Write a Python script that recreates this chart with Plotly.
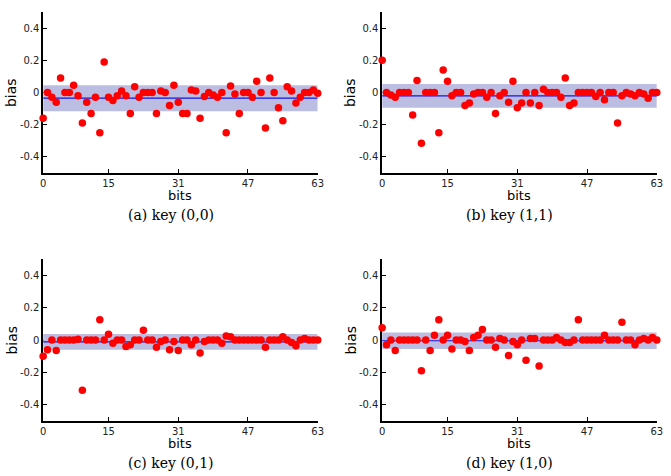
import numpy as np
import plotly.graph_objects as go

bits = list(range(64))
x_tick_vals = [0, 15, 31, 47, 63]
x_tick_text = ["0", "15", "31", "47", "63"]
y_tick_vals = [-0.4, -0.2, 0, 0.2, 0.4]
y_tick_text = ["-0.4", "-0.2", "0", "0.2", "0.4"]

bias_a = [-0.16, 0, -0.03, -0.06, 0.09, 0, 0, 0.045, -0.02, -0.19,
          -0.06, -0.13, -0.03, -0.25, 0.19, -0.03, -0.05, -0.02, 0.01, -0.02,
          -0.13, 0.035, -0.03, 0, 0, 0, -0.13, 0.01, 0, -0.08,
          0.045, -0.06, -0.13, -0.13, 0.015, 0.01, -0.16, -0.025, 0, -0.015,
          -0.03, 0, -0.25, 0.04, -0.01, -0.13, 0, 0, -0.03, 0.07,
          0, -0.22, 0.09, 0, -0.095, -0.175, 0.035, 0.01, -0.065, -0.03,
          0, 0, 0.015, -0.005]
bias_b = [0.2, 0, -0.015, -0.03, 0, 0, 0, -0.14, 0.075, -0.315,
          0, 0, 0, -0.25, 0.14, 0.07, -0.02, 0, 0, -0.08,
          -0.065, -0.01, 0, 0, -0.03, 0, -0.13, -0.02, 0, -0.06,
          0.07, -0.095, -0.065, 0, -0.065, 0, -0.08, 0.02, 0, 0,
          0, -0.03, 0.09, -0.08, -0.065, 0, 0, 0, 0, -0.025,
          0, -0.045, 0, 0, -0.19, -0.02, 0, -0.01, -0.02, 0,
          -0.01, -0.035, 0, 0]
bias_c = [-0.10, -0.06, 0, -0.065, 0, 0, 0, 0, 0.005, -0.31,
          0, 0, 0, 0.125, 0, 0.035, -0.02, 0, 0, -0.04,
          -0.03, 0, 0, 0.06, 0, 0, -0.045, -0.01, 0, -0.06,
          -0.01, -0.065, 0, 0, -0.03, 0, -0.08, -0.01, 0, 0,
          0, -0.02, 0.025, 0.02, 0, 0, 0, 0, 0, 0,
          0, -0.045, 0, 0, 0, 0.02, 0, -0.015, -0.035, 0,
          0.01, 0, 0, 0]
bias_d = [0.075, -0.03, 0, -0.065, 0, 0, 0, 0, 0, -0.19,
          0, -0.065, 0.03, 0.125, 0, 0.03, -0.055, 0, 0, -0.01,
          -0.065, 0.015, 0.03, 0.065, 0, 0, -0.045, 0.01, 0, -0.095,
          -0.01, -0.03, 0, -0.125, 0.01, 0.01, -0.16, 0, 0, 0,
          0.015, 0, -0.015, -0.015, 0, 0.125, 0, 0, 0, 0,
          0, 0.03, 0, 0, 0, 0.11, 0, 0, -0.03, 0,
          0.01, 0, 0.015, 0]

captions = ["(a) key (0,0)", "(b) key (1,1)", "(c) key (0,1)", "(d) key (1,0)"]
series = [bias_a, bias_b, bias_c, bias_d]

W, H = 671, 476
# panel plot areas in pixels: (left, right, top, bottom)
panels = [(40.7, 319.0, 12, 173), (384.3, 662.7, 12, 173),
          (40.7, 319.0, 259, 421), (384.3, 662.7, 259, 421)]

fig = go.Figure()
layout = dict(width=W, height=H, margin=dict(l=0, r=0, t=0, b=0),
              paper_bgcolor="white", plot_bgcolor="white", showlegend=False)
annotations = []
tick_font = dict(family="DejaVu Sans", size=10, color="#222")

for i, (vals, cap, (l, r, t, b)) in enumerate(zip(series, captions, panels)):
    n = "" if i == 0 else str(i + 1)
    xa, ya = "x" + n, "y" + n
    v = np.array(vals, dtype=float)
    m, s = v.mean(), v.std()
    # band mean +/- std
    fig.add_trace(go.Scatter(x=[bits[0], bits[-1], bits[-1], bits[0], bits[0]],
                             y=[m - s, m - s, m + s, m + s, m - s],
                             fill="toself", fillcolor="rgb(188,189,226)",
                             line=dict(width=0), mode="lines",
                             xaxis=xa, yaxis=ya, hoverinfo="skip"))
    fig.add_trace(go.Scatter(x=[bits[0], bits[-1]], y=[m, m], mode="lines",
                             line=dict(color="rgb(20,20,235)", width=1.2),
                             xaxis=xa, yaxis=ya))
    fig.add_trace(go.Scatter(x=bits, y=vals, mode="markers",
                             marker=dict(color="rgb(255,0,0)", size=7.5),
                             cliponaxis=False, xaxis=xa, yaxis=ya))
    common = dict(showgrid=False, zeroline=False, showline=True,
                  linecolor="black", linewidth=1.5, ticks="inside",
                  ticklen=4, tickcolor="black", tickwidth=1,
                  tickfont=tick_font, layer="below traces")
    layout["xaxis" + n] = dict(domain=[l / W, r / W], range=[0, 63],
                               anchor=ya, tickvals=x_tick_vals,
                               ticktext=x_tick_text, **common)
    layout["yaxis" + n] = dict(domain=[1 - b / H, 1 - t / H],
                               range=[-0.5, 0.5], anchor=xa,
                               tickvals=y_tick_vals, ticktext=y_tick_text,
                               **common)
    annotations.append(dict(text="bias", x=(l - 32) / W, y=1 - ((t + b) / 2) / H,
                            xref="paper", yref="paper", textangle=-90,
                            showarrow=False, xanchor="center", yanchor="middle",
                            font=dict(family="DejaVu Sans", size=14, color="black")))
    annotations.append(dict(text="bits", x=((l + r) / 2) / W, y=1 - (b + 22) / H,
                            xref="paper", yref="paper", showarrow=False,
                            xanchor="center", yanchor="middle", borderpad=0,
                            font=dict(family="DejaVu Sans", size=13, color="black")))
    annotations.append(dict(text=cap, x=((l + r) / 2 - 10) / W, y=1 - (b + 42) / H,
                            xref="paper", yref="paper", showarrow=False,
                            xanchor="center", yanchor="middle", borderpad=0,
                            font=dict(family="DejaVu Serif", size=14, color="black")))

layout["annotations"] = annotations
fig.update_layout(**layout)
fig.write_html("out.html")
